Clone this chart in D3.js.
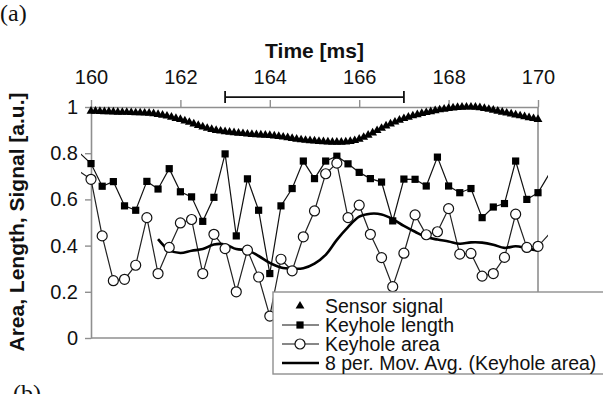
<!DOCTYPE html>
<html>
<head>
<meta charset="utf-8">
<script src="https://cdn.jsdelivr.net/npm/d3@7"></script>
<style>
body { margin: 0; background: #fff; }
text { font-family: "Liberation Sans", Arial, sans-serif; fill: #111; }
</style>
</head>
<body>
<div id="chart"></div>
<script>
// sample times: keyhole data every 0.25 ms (one extra point each side of the axis range)
let keyholeTime = d3.range(0, 43).map(i => 159.75 + i * 0.25);
let keyholeLength = [0.80, 0.755, 0.657, 0.677, 0.572, 0.553, 0.678, 0.645, 0.733, 0.633,
    0.611, 0.505, 0.609, 0.797, 0.442, 0.689, 0.553, 0.279, 0.572, 0.647,
    0.766, 0.69, 0.766, 0.787, 0.754, 0.717, 0.69, 0.675, 0.507, 0.688,
    0.687, 0.658, 0.783, 0.658, 0.629, 0.647, 0.521, 0.567, 0.582, 0.766,
    0.60, 0.629, 0.71];
let keyholeArea = [0.72, 0.687, 0.442, 0.248, 0.254, 0.315, 0.521, 0.279, 0.392, 0.498,
    0.513, 0.279, 0.449, 0.387, 0.20, 0.38, 0.264, 0.095, 0.341, 0.291,
    0.438, 0.55, 0.711, 0.757, 0.521, 0.575, 0.449, 0.348, 0.222, 0.367,
    0.533, 0.447, 0.46, 0.56, 0.363, 0.366, 0.268, 0.279, 0.349, 0.536,
    0.392, 0.397, 0.45];
// moving average, from 161.5 ms to 170 ms
let movAvgTime = d3.range(0, 35).map(i => 161.5 + i * 0.25);
let movAvg = [0.428, 0.38, 0.368, 0.378, 0.385, 0.405, 0.405, 0.385, 0.38, 0.355,
    0.325, 0.305, 0.30, 0.302, 0.322, 0.36, 0.425, 0.48, 0.525, 0.538,
    0.535, 0.515, 0.485, 0.46, 0.437, 0.426, 0.418, 0.408, 0.414, 0.413,
    0.404, 0.39, 0.397, 0.388, 0.378];
// sensor signal every 0.1 ms
let sensorTime = d3.range(0, 101).map(i => 160 + i * 0.1);
let sensor = [0.982, 0.982, 0.981, 0.980, 0.980, 0.979, 0.978, 0.977, 0.977, 0.976,
    0.975, 0.975, 0.974, 0.973, 0.971, 0.968, 0.965, 0.961, 0.956, 0.951,
    0.946, 0.940, 0.934, 0.927, 0.920, 0.914, 0.908, 0.903, 0.899, 0.896,
    0.893, 0.891, 0.889, 0.887, 0.885, 0.883, 0.881, 0.880, 0.879, 0.878,
    0.877, 0.875, 0.873, 0.870, 0.867, 0.864, 0.861, 0.858, 0.856, 0.854,
    0.853, 0.851, 0.850, 0.849, 0.848, 0.848, 0.848, 0.849, 0.851, 0.855,
    0.861, 0.869, 0.878, 0.888, 0.898, 0.908, 0.918, 0.927, 0.935, 0.943,
    0.950, 0.956, 0.962, 0.967, 0.972, 0.976, 0.980, 0.984, 0.988, 0.991,
    0.994, 0.996, 0.998, 0.999, 1.0, 1.0, 0.999, 0.997, 0.994, 0.990,
    0.986, 0.982, 0.978, 0.974, 0.970, 0.966, 0.962, 0.958, 0.954, 0.950,
    0.946];
let timeTicks = [160, 162, 164, 166, 168, 170];
let valueTicks = [0, 0.2, 0.4, 0.6, 0.8, 1];
let errorBar = [163, 167];
let errorBarLevel = 1.043;
let legendLabels = ["Sensor signal", "Keyhole length", "Keyhole area", "8 per. Mov. Avg. (Keyhole area)"];

let margin = {top: 107, right: 65, left: 91, bottom: 56};
let width = 603 - margin.left - margin.right;
let height = 394 - margin.top - margin.bottom;
let axisColor = "#8f8f8f";

let svg = d3.select("#chart")
    .append("svg")
    .attr("width", 603)
    .attr("height", 394);

svg.append("rect").attr("width", 603).attr("height", 394).attr("fill", "#fff");

let chart = svg.append("g")
    .attr("transform", "translate(" + margin.left + ", " + margin.top + ")");

let xScale = d3.scaleLinear().domain([160, 170]).range([0, width]);
let yScale = d3.scaleLinear().domain([0, 1]).range([height, 0]);

// lines may run a little past the plot edges, like the original
svg.append("clipPath").attr("id", "plotclip")
    .append("rect")
    .attr("x", -10).attr("y", -20)
    .attr("width", width + 20).attr("height", height + 40);

// frame: bottom and right edges
chart.append("line")
    .attr("x1", 0).attr("x2", width)
    .attr("y1", height).attr("y2", height)
    .attr("stroke", axisColor).attr("stroke-width", 1.6);
chart.append("line")
    .attr("x1", width).attr("x2", width)
    .attr("y1", 0).attr("y2", height)
    .attr("stroke", axisColor).attr("stroke-width", 1.6);

let xAxis = d3.axisTop(xScale).tickValues(timeTicks).tickSize(7).tickSizeOuter(0).tickPadding(16);
let yAxis = d3.axisLeft(yScale).tickValues(valueTicks).tickSize(6).tickSizeOuter(0).tickPadding(7)
    .tickFormat(d => (d === 0 || d === 1) ? d3.format("d")(d) : d3.format(".1f")(d));

let gx = chart.append("g").call(xAxis);
let gy = chart.append("g").call(yAxis);
[gx, gy].forEach(g => {
    g.select(".domain").attr("stroke", axisColor).attr("stroke-width", 1.6);
    g.selectAll(".tick line").attr("stroke", axisColor).attr("stroke-width", 1.4);
    g.selectAll(".tick text")
        .attr("font-size", 20)
        .attr("font-family", "Liberation Sans, Arial, sans-serif")
        .attr("fill", "#111");
});

chart.append("text")
    .attr("x", width / 2)
    .attr("y", -49)
    .attr("text-anchor", "middle")
    .attr("font-size", 21)
    .attr("font-weight", "bold")
    .text("Time [ms]");

svg.append("text")
    .attr("transform", "translate(24, 222) rotate(-90)")
    .attr("text-anchor", "middle")
    .attr("font-size", 21)
    .attr("font-weight", "bold")
    .text("Area, Length, Signal [a.u.]");

svg.append("text")
    .attr("x", 0).attr("y", 21)
    .attr("font-size", 24)
    .style("font-family", "'Liberation Serif', 'Times New Roman', serif")
    .text("(a)");
svg.append("text")
    .attr("x", 13).attr("y", 401)
    .attr("font-size", 24)
    .style("font-family", "'Liberation Serif', 'Times New Roman', serif")
    .text("(b)");

// 163-167 ms interval bar above the plot
chart.append("line")
    .attr("x1", xScale(errorBar[0])).attr("x2", xScale(errorBar[1]))
    .attr("y1", yScale(errorBarLevel)).attr("y2", yScale(errorBarLevel))
    .attr("stroke", "#111").attr("stroke-width", 1.8);
errorBar.forEach(t => {
    chart.append("line")
        .attr("x1", xScale(t)).attr("x2", xScale(t))
        .attr("y1", yScale(errorBarLevel) - 6).attr("y2", yScale(errorBarLevel) + 6)
        .attr("stroke", "#111").attr("stroke-width", 1.8);
});

let keyholeData = keyholeTime.map((t, i) => ({t: t, len: keyholeLength[i], area: keyholeArea[i]}));
let inRange = d => d.t >= 159.99 && d.t <= 170.01;

let series = chart.append("g").attr("clip-path", "url(#plotclip)");

series.append("path")
    .datum(keyholeData)
    .attr("fill", "none")
    .attr("stroke", "#222")
    .attr("stroke-width", 1.2)
    .attr("d", d3.line().x(d => xScale(d.t)).y(d => yScale(d.area)));

series.append("path")
    .datum(keyholeData)
    .attr("fill", "none")
    .attr("stroke", "#111")
    .attr("stroke-width", 1.2)
    .attr("d", d3.line().x(d => xScale(d.t)).y(d => yScale(d.len)));

series.append("path")
    .datum(movAvgTime.map((t, i) => ({t: t, v: movAvg[i]})))
    .attr("fill", "none")
    .attr("stroke", "#000")
    .attr("stroke-width", 2.6)
    .attr("d", d3.line().curve(d3.curveCatmullRom).x(d => xScale(d.t)).y(d => yScale(d.v)));

let triangle = d3.symbol().type(d3.symbolTriangle).size(34);

chart.append("g").selectAll("path")
    .data(sensorTime.map((t, i) => ({t: t, v: sensor[i]})))
    .enter()
    .append("path")
    .attr("d", triangle)
    .attr("transform", d => "translate(" + xScale(d.t) + "," + yScale(d.v) + ")")
    .attr("fill", "#000");

chart.append("g").selectAll("rect")
    .data(keyholeData.filter(inRange))
    .enter()
    .append("rect")
    .attr("x", d => xScale(d.t) - 3.6)
    .attr("y", d => yScale(d.len) - 3.6)
    .attr("width", 7.2)
    .attr("height", 7.2)
    .attr("fill", "#000");

chart.append("g").selectAll("circle")
    .data(keyholeData.filter(inRange))
    .enter()
    .append("circle")
    .attr("cx", d => xScale(d.t))
    .attr("cy", d => yScale(d.area))
    .attr("r", 5)
    .attr("fill", "#fff")
    .attr("stroke", "#111")
    .attr("stroke-width", 1.2);

// legend, runs past the right edge of the picture
let legend = svg.append("g").attr("transform", "translate(273, 292)");
legend.append("rect")
    .attr("x", 0).attr("y", 0)
    .attr("width", 360).attr("height", 82)
    .attr("fill", "#fff")
    .attr("stroke", axisColor)
    .attr("stroke-width", 1.4);

let rowY = d3.scalePoint().domain(legendLabels).range([14, 71]);
let keyX = 27;

legend.append("path")
    .attr("d", triangle)
    .attr("transform", "translate(" + keyX + "," + rowY(legendLabels[0]) + ")")
    .attr("fill", "#000");

legend.append("line")
    .attr("x1", 9).attr("x2", 46)
    .attr("y1", rowY(legendLabels[1])).attr("y2", rowY(legendLabels[1]))
    .attr("stroke", "#111").attr("stroke-width", 1.2);
legend.append("rect")
    .attr("x", keyX - 3.6).attr("y", rowY(legendLabels[1]) - 3.6)
    .attr("width", 7.2).attr("height", 7.2)
    .attr("fill", "#000");

legend.append("line")
    .attr("x1", 9).attr("x2", 46)
    .attr("y1", rowY(legendLabels[2])).attr("y2", rowY(legendLabels[2]))
    .attr("stroke", "#111").attr("stroke-width", 1.2);
legend.append("circle")
    .attr("cx", keyX).attr("cy", rowY(legendLabels[2]))
    .attr("r", 5)
    .attr("fill", "#fff").attr("stroke", "#111").attr("stroke-width", 1.2);

legend.append("line")
    .attr("x1", 9).attr("x2", 46)
    .attr("y1", rowY(legendLabels[3])).attr("y2", rowY(legendLabels[3]))
    .attr("stroke", "#000").attr("stroke-width", 2.6);

legend.selectAll("text.label")
    .data(legendLabels)
    .enter()
    .append("text")
    .attr("class", "label")
    .attr("x", 52)
    .attr("y", d => rowY(d))
    .attr("dy", "0.35em")
    .attr("font-size", 19.5)
    .text(d => d);
</script>
</body>
</html>
